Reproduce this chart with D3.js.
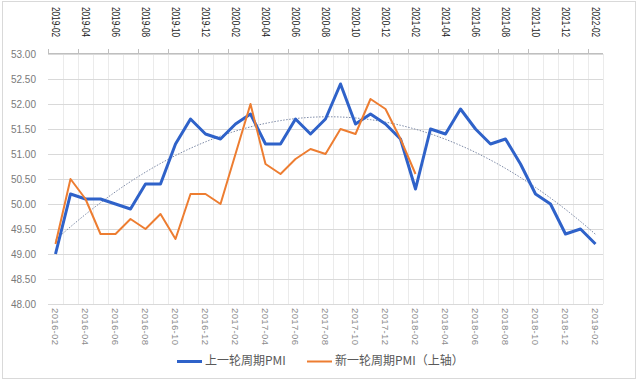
<!DOCTYPE html>
<html><head><meta charset="utf-8">
<script src="https://cdnjs.cloudflare.com/ajax/libs/d3/7.8.5/d3.min.js"></script>
<style>
html,body{margin:0;padding:0;background:#fff;}
svg{display:block;}
text{font-family:"Liberation Sans","DejaVu Sans",sans-serif;}
</style></head><body>
<svg id="chart" width="640" height="381"></svg>
<script>
const bottomCats = ["2016-02","2016-03","2016-04","2016-05","2016-06","2016-07","2016-08","2016-09","2016-10","2016-11","2016-12",
"2017-01","2017-02","2017-03","2017-04","2017-05","2017-06","2017-07","2017-08","2017-09","2017-10","2017-11","2017-12",
"2018-01","2018-02","2018-03","2018-04","2018-05","2018-06","2018-07","2018-08","2018-09","2018-10","2018-11","2018-12",
"2019-01","2019-02"];
const topCats = ["2019-02","2019-03","2019-04","2019-05","2019-06","2019-07","2019-08","2019-09","2019-10","2019-11","2019-12",
"2020-01","2020-02","2020-03","2020-04","2020-05","2020-06","2020-07","2020-08","2020-09","2020-10","2020-11","2020-12",
"2021-01","2021-02","2021-03","2021-04","2021-05","2021-06","2021-07","2021-08","2021-09","2021-10","2021-11","2021-12",
"2022-01","2022-02"];
const oldCycle = [49.0,50.2,50.1,50.1,50.0,49.9,50.4,50.4,51.2,51.7,51.4,
51.3,51.6,51.8,51.2,51.2,51.7,51.4,51.7,52.4,51.6,51.8,51.6,
51.3,50.3,51.5,51.4,51.9,51.5,51.2,51.3,50.8,50.2,50.0,49.4,
49.5,49.2];
const newCycle = [49.2,50.5,50.1,49.4,49.4,49.7,49.5,49.8,49.3,50.2,50.2,
50.0,null,52.0,50.8,50.6,50.9,51.1,51.0,51.5,51.4,52.1,51.9,
51.3,50.6];
const yTicks = [48,48.5,49,49.5,50,50.5,51,51.5,52,52.5,53];
const legendLabels = ["上一轮周期PMI","新一轮周期PMI（上轴）"];

const svg = d3.select("#chart");
const L = 48, R = 603, T = 54, B = 304;

// frame
svg.append("rect").attr("x",2.5).attr("y",1.5).attr("width",633).attr("height",377)
  .attr("fill","#fff").attr("stroke","#d9d9d9");

const xb = d3.scaleBand().domain(bottomCats).range([L,R]).padding(0);
const xt = d3.scaleBand().domain(topCats).range([L,R]).padding(0);
const y = d3.scaleLinear().domain([48,53]).range([B,T]);

// vertical gridlines at category boundaries
const g = svg.append("g");
g.selectAll("line.v").data(bottomCats.slice(1)).join("line")
  .attr("x1",d=>xb(d)+0.5).attr("x2",d=>xb(d)+0.5).attr("y1",T).attr("y2",B)
  .attr("stroke","#ebebeb").attr("stroke-width",1);
g.append("line").attr("x1",R+0.5).attr("x2",R+0.5).attr("y1",T).attr("y2",B).attr("stroke","#ebebeb");
// horizontal gridlines
g.selectAll("line.h").data(yTicks).join("line")
  .attr("x1",L).attr("x2",R).attr("y1",d=>Math.round(y(d))+0.5).attr("y2",d=>Math.round(y(d))+0.5)
  .attr("stroke","#d9d9d9").attr("stroke-width",1.2);

// y labels
svg.append("g").selectAll("text").data(yTicks).join("text")
  .attr("x",36).attr("y",d=>y(d)).attr("dy","0.35em").attr("text-anchor","end")
  .attr("font-size",10).attr("fill","#7a7a7a").text(d=>d.toFixed(2));

// top axis
const topAxis = svg.append("g");
topAxis.append("line").attr("x1",L).attr("x2",R).attr("y1",T-0.5).attr("y2",T-0.5).attr("stroke","#bfbfbf");
const tickIdx = d3.range(0, topCats.length+1, 2);
topAxis.selectAll("line.t").data(tickIdx).join("line")
  .attr("x1",i=>L+i*xt.bandwidth()+0.5).attr("x2",i=>L+i*xt.bandwidth()+0.5)
  .attr("y1",T-5).attr("y2",T).attr("stroke","#bfbfbf");
topAxis.selectAll("text").data(topCats.filter((d,i)=>i%2===0)).join("text")
  .attr("transform",d=>`translate(${xt(d)+xt.bandwidth()/2},7) rotate(90)`)
  .attr("dy","0.35em").attr("font-size",10.5).attr("textLength",30).attr("lengthAdjust","spacingAndGlyphs")
  .attr("fill","#222").text(d=>d);

// bottom labels
svg.append("g").selectAll("text").data(bottomCats.filter((d,i)=>i%2===0)).join("text")
  .attr("transform",d=>`translate(${xb(d)+xb.bandwidth()/2},308) rotate(90)`)
  .attr("dy","0.35em").attr("font-size",9.5).attr("textLength",37).attr("lengthAdjust","spacing")
  .attr("fill","#8a8a8a").text(d=>d);

// trendline: quadratic least squares of oldCycle (as the spreadsheet trendline)
function polyfit(ys, order){
  const n = ys.length, m = order+1;
  const A = Array.from({length:m},()=>Array(m+1).fill(0));
  ys.forEach((v,i)=>{const x=i+1;for(let r=0;r<m;r++){for(let c=0;c<m;c++)A[r][c]+=Math.pow(x,r+c);A[r][m]+=v*Math.pow(x,r);}});
  for(let i=0;i<m;i++){let p=i;for(let k=i+1;k<m;k++)if(Math.abs(A[k][i])>Math.abs(A[p][i]))p=k;[A[i],A[p]]=[A[p],A[i]];
    for(let k=0;k<m;k++){if(k===i)continue;const f=A[k][i]/A[i][i];for(let c=i;c<=m;c++)A[k][c]-=f*A[i][c];}}
  return A.map((r,i)=>r[m]/r[i]);
}
const coef = polyfit(oldCycle, 2);
const trend = d3.range(0, oldCycle.length-1+0.001, 0.25).map(t=>{const x=t+1;return [t, coef.reduce((s,c,k)=>s+c*Math.pow(x,k),0)];});
const xIdx = d3.scaleLinear().domain([0,oldCycle.length-1]).range([xb(bottomCats[0])+xb.bandwidth()/2, xb(bottomCats[bottomCats.length-1])+xb.bandwidth()/2]);
svg.append("path").datum(trend)
  .attr("d",d3.line().x(d=>xIdx(d[0])).y(d=>y(d[1])))
  .attr("fill","none").attr("stroke","#7d8aa6").attr("stroke-width",1).attr("stroke-dasharray","1.5,1.5");

// blue line
svg.append("path").datum(oldCycle.map((v,i)=>[bottomCats[i],v]))
  .attr("d",d3.line().x(d=>xb(d[0])+xb.bandwidth()/2).y(d=>y(d[1])))
  .attr("fill","none").attr("stroke","#2f62c9").attr("stroke-width",3).attr("stroke-linejoin","round");

// orange line (connects over empty cell)
svg.append("path").datum(newCycle.map((v,i)=>[topCats[i],v]).filter(d=>d[1]!==null))
  .attr("d",d3.line().x(d=>xt(d[0])+xt.bandwidth()/2).y(d=>y(d[1])))
  .attr("fill","none").attr("stroke","#ed7d31").attr("stroke-width",2).attr("stroke-linejoin","round");

// legend
const leg = svg.append("g");
const legColors = ["#2f62c9","#ed7d31"];
const legX = [177, 307];
legendLabels.forEach((t,i)=>{
  leg.append("line").attr("x1",legX[i]).attr("x2",legX[i]+25).attr("y1",361.5).attr("y2",361.5)
    .attr("stroke",legColors[i]).attr("stroke-width",i===0?3:2);
  leg.append("text").attr("x",legX[i]+28).attr("y",361).attr("dy","0.35em").attr("font-size",12)
    .attr("fill","#595959").style("font-family","'Noto Sans CJK SC',sans-serif").text(t);
});
</script>
</body></html>
